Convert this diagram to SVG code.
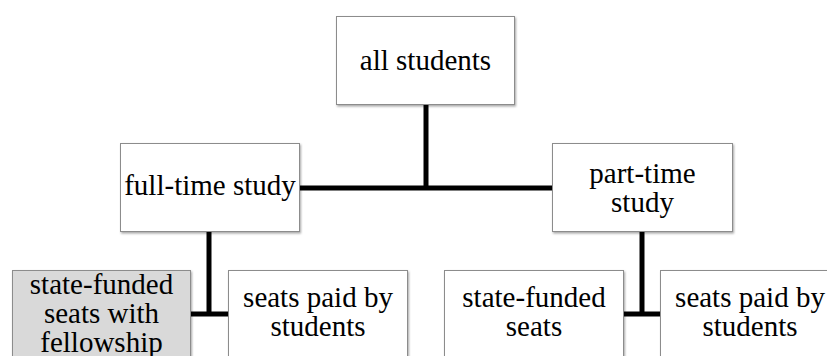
<svg xmlns="http://www.w3.org/2000/svg" width="827" height="356" viewBox="0 0 827 356">
<defs>
<filter id="sh" x="-10%" y="-10%" width="130%" height="130%">
<feDropShadow dx="1" dy="1.5" stdDeviation="1.2" flood-color="#000" flood-opacity="0.35"/>
</filter>
<style>
.box{fill:#ffffff;stroke:#8c8c8c;stroke-width:1;filter:url(#sh)}
.grey{fill:#d9d9d9}
.t{font-family:"Liberation Serif","Times New Roman",serif;font-size:29px;fill:#000;text-anchor:middle}
.c{stroke:#000;stroke-width:5;fill:none}
</style>
</defs>
<rect width="827" height="356" fill="#fff"/>
<g id="connectors">
<line class="c" x1="426" y1="104" x2="426" y2="188"/>
<line class="c" x1="299" y1="188" x2="552" y2="188"/>
<line class="c" x1="209" y1="232" x2="209" y2="314"/>
<line class="c" x1="191" y1="314" x2="228" y2="314"/>
<line class="c" x1="642" y1="232" x2="642" y2="314"/>
<line class="c" x1="623" y1="314" x2="660" y2="314"/>
</g>
<g id="all-students">
<rect class="box" x="336.5" y="16.5" width="178" height="88"/>
<text class="t" x="425.5" y="70">all students</text>
</g>
<g id="full-time">
<rect class="box" x="120.5" y="143.5" width="179" height="88"/>
<text class="t" x="210" y="195">full-time study</text>
</g>
<g id="part-time">
<rect class="box" x="552.5" y="143.5" width="180" height="88"/>
<text class="t" x="642.5" y="183">part-time</text>
<text class="t" x="642.5" y="212">study</text>
</g>
<g id="state-funded-fellowship">
<rect class="box grey" x="12.5" y="270.5" width="178" height="100"/>
<text class="t" x="101.5" y="294">state-funded</text>
<text class="t" x="101.5" y="323">seats with</text>
<text class="t" x="101.5" y="352">fellowship</text>
</g>
<g id="paid-full">
<rect class="box" x="228.5" y="270.5" width="179" height="100"/>
<text class="t" x="318" y="307">seats paid by</text>
<text class="t" x="318" y="336">students</text>
</g>
<g id="state-funded-part">
<rect class="box" x="444.5" y="270.5" width="179" height="100"/>
<text class="t" x="534" y="307">state-funded</text>
<text class="t" x="534" y="336">seats</text>
</g>
<g id="paid-part">
<rect class="box" x="660.5" y="270.5" width="179" height="100"/>
<text class="t" x="750" y="307">seats paid by</text>
<text class="t" x="750" y="336">students</text>
</g>
</svg>
